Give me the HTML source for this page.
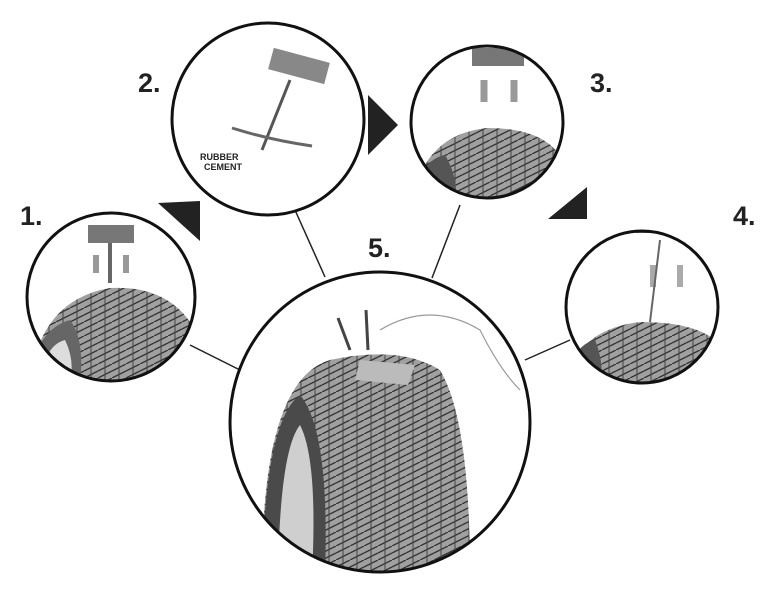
<!DOCTYPE html>
<html><head><style>
html,body{margin:0;padding:0;background:#fff;width:762px;height:611px;overflow:hidden}
svg{display:block}
text{font-family:"Liberation Sans",sans-serif;font-weight:bold;fill:#222}
</style></head><body>
<svg width="762" height="611" viewBox="0 0 762 611" xmlns="http://www.w3.org/2000/svg">
<defs>
<clipPath id="c1"><circle cx="111" cy="297" r="84"/></clipPath>
<clipPath id="c3"><circle cx="487" cy="122" r="76"/></clipPath>
<clipPath id="c4"><circle cx="642" cy="307" r="76"/></clipPath>
<clipPath id="c5"><circle cx="380" cy="422" r="150"/></clipPath>
<pattern id="tread" width="14" height="14" patternUnits="userSpaceOnUse">
<rect width="14" height="14" fill="#a0a0a0"/><path d="M0 7 L14 0 M0 14 L14 7" stroke="#333" stroke-width="1.3"/><path d="M7 0 V14" stroke="#444" stroke-width="1"/>
</pattern>
</defs>
<g stroke="#222" stroke-width="1.5">
<line x1="190" y1="345" x2="240" y2="370"/>
<line x1="295" y1="210" x2="325" y2="277"/>
<line x1="460" y1="205" x2="432" y2="278"/>
<line x1="570" y1="340" x2="525" y2="360"/>
</g>
<g clip-path="url(#c1)">
<path d="M30 382 Q40 300 110 288 Q170 285 195 330 L195 382 Z" fill="url(#tread)"/>
<path d="M30 382 Q35 330 70 320 Q85 340 80 382 Z" fill="#666"/>
<path d="M40 382 Q45 345 65 340 Q75 360 70 382 Z" fill="#ddd"/>
<rect x="88" y="225" width="46" height="18" fill="#777"/>
<rect x="108" y="243" width="4" height="40" fill="#666"/>
<path d="M96 255 v18 M126 255 v18" stroke="#999" stroke-width="6"/>
</g>
<circle cx="111" cy="297" r="84" fill="none" stroke="#111" stroke-width="3"/>
<circle cx="268" cy="119" r="96" fill="#fff" stroke="#111" stroke-width="3"/>
<rect x="270" y="55" width="58" height="22" fill="#888" transform="rotate(15 299 66)"/>
<line x1="290" y1="80" x2="262" y2="150" stroke="#555" stroke-width="3"/>
<path d="M232 128 Q270 140 312 146" stroke="#666" stroke-width="3" fill="none"/>
<text x="200" y="160" font-size="9" fill="#555">RUBBER</text>
<text x="204" y="170" font-size="9" fill="#555">CEMENT</text>
<g clip-path="url(#c3)">
<path d="M411 210 Q420 135 487 128 Q550 128 565 165 L565 210 Z" fill="url(#tread)"/>
<path d="M411 210 Q418 160 445 155 Q460 180 455 210 Z" fill="#555"/>
<rect x="472" y="48" width="52" height="18" fill="#777"/>
<path d="M484 80 v22 M514 80 v22" stroke="#999" stroke-width="7"/>
</g>
<circle cx="487" cy="122" r="76" fill="none" stroke="#111" stroke-width="3"/>
<g clip-path="url(#c4)">
<path d="M566 385 Q575 330 640 322 Q700 322 720 345 L720 385 Z" fill="url(#tread)"/>
<path d="M566 385 Q572 345 595 340 Q605 365 600 385 Z" fill="#555"/>
<rect x="636" y="217" width="46" height="16" fill="#777"/>
<path d="M653 265 v22 M680 265 v22" stroke="#aaa" stroke-width="6"/>
<line x1="660" y1="240" x2="650" y2="322" stroke="#666" stroke-width="2"/>
</g>
<circle cx="642" cy="307" r="76" fill="none" stroke="#111" stroke-width="3"/>
<g clip-path="url(#c5)">
<path d="M262 575 Q262 380 330 360 Q400 345 440 370 Q470 420 470 575 Z" fill="url(#tread)"/>
<path d="M262 575 Q265 420 300 395 Q330 430 325 575 Z" fill="#4a4a4a"/>
<path d="M278 575 Q280 450 300 425 Q318 460 312 575 Z" fill="#cfcfcf"/>
<path d="M360 360 L415 365 L408 385 L355 380 Z" fill="#bbb"/>
<path d="M380 330 Q430 300 480 330 Q500 370 520 390" stroke="#999" fill="none" stroke-width="1.2"/>
<line x1="366" y1="310" x2="368" y2="350" stroke="#444" stroke-width="3"/>
<line x1="338" y1="318" x2="350" y2="350" stroke="#444" stroke-width="3"/>
</g>
<circle cx="380" cy="422" r="150" fill="none" stroke="#111" stroke-width="3"/>
<polygon points="158,203 200,201 200,241" fill="#222"/>
<polygon points="368,95 368,155 398,125" fill="#222"/>
<polygon points="548,219 587,187 587,219" fill="#222"/>
<text x="20" y="225" font-size="27">1.</text>
<text x="138" y="92" font-size="27">2.</text>
<text x="590" y="92" font-size="27">3.</text>
<text x="733" y="225" font-size="27">4.</text>
<text x="368" y="257" font-size="27">5.</text>
</svg>
</body></html>
